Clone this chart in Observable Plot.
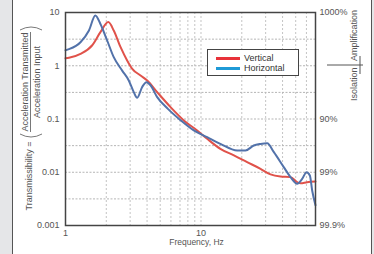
<!DOCTYPE html>
<html>
<head>
<meta charset="utf-8">
<script src="https://cdn.jsdelivr.net/npm/d3@7"></script>
<script src="https://cdn.jsdelivr.net/npm/@observablehq/plot@0.6"></script>
<style>
  html, body { margin: 0; padding: 0; background: #e5e6e8; }
  #wrap { position: relative; width: 374px; height: 254px; overflow: hidden; font-family: "Liberation Sans", Arial, sans-serif; }
  #panel { position: absolute; left: 12px; top: 0; width: 358px; height: 254px; background: #fff; border-left: 1.5px solid #555; border-right: 1.5px solid #555; }
  #chart { position: absolute; left: 0; top: 0; }
  #legend { position: absolute; left: 207px; top: 49px; width: 90px; height: 25px; border: 1px solid #444; background: #fff; }
  .row { position: absolute; left: 0; height: 9px; width: 90px; }
  .sw { position: absolute; left: 8px; width: 24px; height: 3px; top: 3px; }
  .lt { position: absolute; left: 36px; font-size: 9px; color: #333; line-height: 9px; top: 0; white-space: nowrap; }
</style>
</head>
<body>
<div id="wrap">
  <div id="panel"></div>
  <div id="chart"></div>
  <div id="legend"></div>
</div>
<script>
// Horizontal (blue) curve
const freqH = [1, 1.06, 1.29, 1.49, 1.66, 1.81, 2.03, 2.27, 2.62, 2.93, 3.19, 3.38, 3.68, 3.96, 4.24, 4.75, 5.7, 7.1, 8.85, 11.1, 13.9, 18.5, 21.3, 24.5, 27.5, 30.8, 34.5, 40.8, 45.8, 51.3, 55.8, 60.1, 63.6, 66.2, 70];
const transH = [1.95, 2.05, 2.77, 4.59, 8.8, 6.1, 2.98, 1.45, 0.81, 0.53, 0.32, 0.25, 0.40, 0.49, 0.43, 0.257, 0.155, 0.094, 0.061, 0.0456, 0.0342, 0.0256, 0.0256, 0.0318, 0.034, 0.035, 0.0238, 0.0125, 0.0081, 0.0061, 0.0075, 0.0100, 0.0087, 0.0045, 0.0024];
// Vertical (red) curve
const freqV = [1, 1.06, 1.29, 1.57, 1.81, 2.07, 2.27, 2.55, 2.85, 3.11, 3.58, 4.01, 4.75, 5.96, 7.47, 9.37, 11.1, 13.9, 17.5, 21.9, 27.5, 32.6, 38.6, 45.8, 51.3, 54.3, 60.6, 70];
const transV = [1.38, 1.41, 1.67, 2.4, 4.27, 6.6, 4.59, 2.23, 1.26, 0.877, 0.656, 0.53, 0.32, 0.167, 0.094, 0.061, 0.0425, 0.0275, 0.0207, 0.0155, 0.0116, 0.0091, 0.0083, 0.0081, 0.0065, 0.0062, 0.0065, 0.0067];

const xTicks = [1, 10, 70];
const xTickLabels = ["1", "10", "70"];
const yTicks = [10, 1, 0.1, 0.01, 0.001];
const yTickLabels = ["10", "1", "0.1", "0.01", "0.001"];
const yRightTicks = [10, 0.1, 0.01, 0.001];
const yRightLabels = ["1000%", "90%", "99%", "99.9%"];
const xGrid = [2, 3, 4, 5, 6, 7, 8, 9, 10, 20, 30, 40, 50, 60];
const yGrid = [0.00316, 0.01, 0.0316, 0.1, 0.316, 1, 3.16];

const seriesNames = ["Vertical", "Horizontal"];
const seriesColors = ["#e0524a", "#5272aa"];
const legendColors = ["#e8323a", "#1f9ad6"];

const horizontal = freqH.map((f, i) => ({f, t: transH[i]}));
const vertical = freqV.map((f, i) => ({f, t: transV[i]}));

const chart = Plot.plot({
  width: 374,
  height: 254,
  marginLeft: 65,
  marginRight: 59,
  marginTop: 12,
  marginBottom: 29,
  style: {background: "transparent", fontFamily: "'Liberation Sans', Arial, sans-serif", fontSize: "9px", color: "#555"},
  x: {type: "log", domain: [1, 70]},
  y: {type: "log", domain: [0.001, 10]},
  marks: [
    Plot.ruleX(xGrid, {stroke: "#c4c4c4", strokeDasharray: "2,2", strokeWidth: 1}),
    Plot.ruleY(yGrid, {stroke: "#b5b5b5", strokeDasharray: "2,1.5", strokeWidth: 1}),
    Plot.line(vertical, {x: "f", y: "t", stroke: seriesColors[0], strokeWidth: 2, curve: "monotone-x"}),
    Plot.line(horizontal, {x: "f", y: "t", stroke: seriesColors[1], strokeWidth: 2, curve: "monotone-x"}),
    Plot.frame({stroke: "#444", strokeWidth: 1.5}),
    Plot.axisX(xTicks, {tickSize: 0, tickPadding: 4, tickFormat: d => xTickLabels[xTicks.indexOf(d)], label: null, fill: "#555"}),
    Plot.axisY(yTicks, {anchor: "left", tickSize: 0, tickPadding: 6, tickFormat: d => yTickLabels[yTicks.indexOf(d)], label: null, fill: "#555"}),
    Plot.axisY(yRightTicks, {anchor: "right", tickSize: 0, tickPadding: 4, tickFormat: d => yRightLabels[yRightTicks.indexOf(d)], label: null, fill: "#555"}),
    Plot.text(["Frequency, Hz"], {frameAnchor: "bottom", dy: 19, dx: 6, fill: "#555", fontSize: 8.5})
  ]
});
document.getElementById("chart").appendChild(chart);

// Side annotations (rotated texts)
const svg = d3.select(chart);
const g = svg.append("g").attr("transform", "rotate(-90)")
  .attr("fill", "#555").style("font-family", "'Liberation Sans', Arial, sans-serif").style("font-size", "9px");
g.append("text").attr("x", -176).attr("y", 32).attr("text-anchor", "middle").text("Transmissibility =");
g.append("text").attr("x", -82).attr("y", 27.5).attr("text-anchor", "middle").text("Acceleration Transmitted");
g.append("text").attr("x", -82).attr("y", 40).attr("text-anchor", "middle").text("Acceleration Input");
g.append("line").attr("x1", -132).attr("x2", -32).attr("y1", 30.5).attr("y2", 30.5).attr("stroke", "#555").attr("stroke-width", 0.8);
g.append("path").attr("d", "M-134,20 Q-140,31 -134,42").attr("fill", "none").attr("stroke", "#555").attr("stroke-width", 0.8);
g.append("path").attr("d", "M-30,20 Q-24,31 -30,42").attr("fill", "none").attr("stroke", "#555").attr("stroke-width", 0.8);
g.append("text").attr("x", -61).attr("y", 357).attr("text-anchor", "start").text("Amplification");
g.append("text").attr("x", -101).attr("y", 357).attr("text-anchor", "start").text("Isolation");
svg.append("line").attr("x1", 327).attr("x2", 363).attr("y1", 65).attr("y2", 65).attr("stroke", "#555").attr("stroke-width", 1);
svg.append("line").attr("x1", 360).attr("x2", 360).attr("y1", 56).attr("y2", 74).attr("stroke", "#555").attr("stroke-width", 1);

// Legend
const legend = document.getElementById("legend");
seriesNames.forEach((name, i) => {
  const row = document.createElement("div");
  row.className = "row";
  row.style.top = (4 + i * 9.5) + "px";
  const sw = document.createElement("div");
  sw.className = "sw";
  sw.style.background = legendColors[i];
  const t = document.createElement("div");
  t.className = "lt";
  t.textContent = name;
  row.appendChild(sw);
  row.appendChild(t);
  legend.appendChild(row);
});
</script>
</body>
</html>
